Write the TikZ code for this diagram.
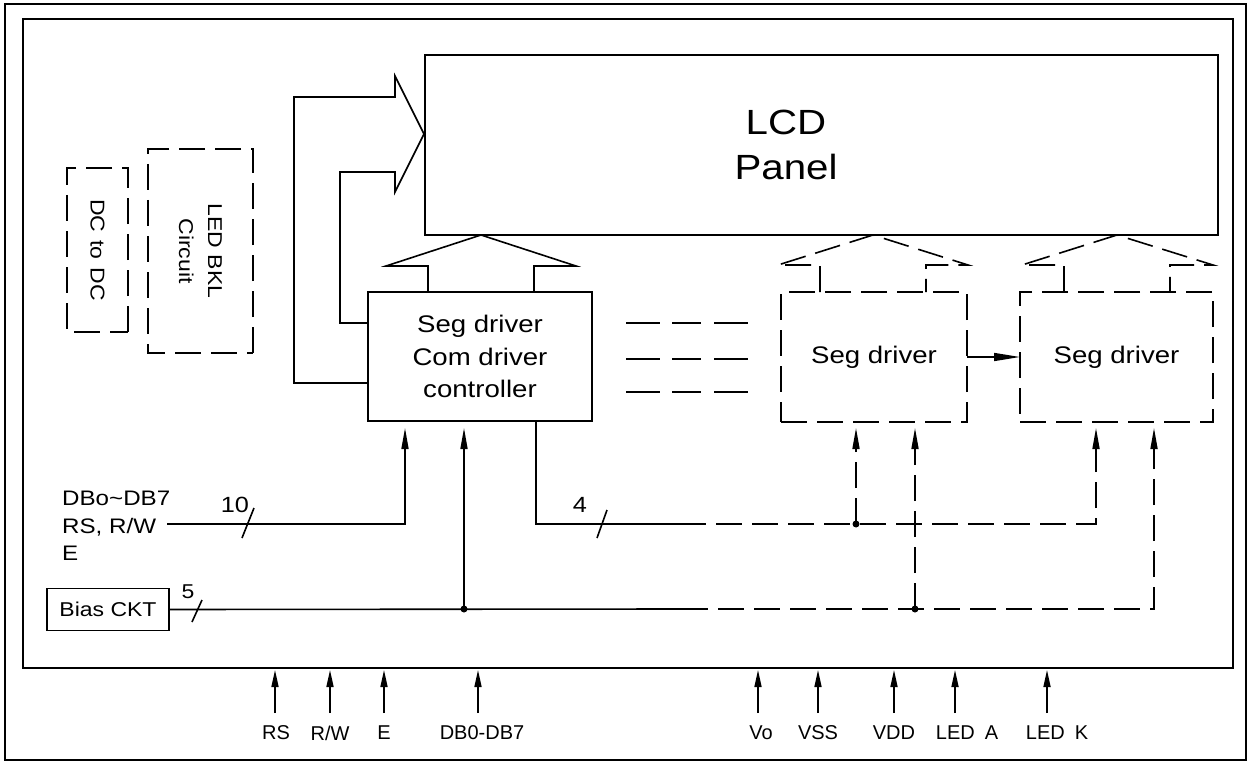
\documentclass[tikz,border=0pt]{standalone}
\usepackage{fontspec}
\setmainfont{Liberation Sans}[FakeStretch=1.15]
\newfontfamily\pinfont{Liberation Sans}
\usetikzlibrary{arrows.meta}
\begin{document}
\begin{tikzpicture}[x=1pt,y=-1pt,
  ln/.style={line width=1.6pt},
  dsh/.style={line width=1.6pt,dash pattern=on 26pt off 10pt},
  arr/.style={-{Triangle[length=21pt,width=7pt]}},
  parr/.style={-{Triangle[length=17pt,width=7pt]}},
  box/.style={draw,line width=1.6pt,inner sep=0pt,outer sep=0pt},
  dotj/.style={circle,fill,inner sep=0pt,minimum size=7pt},
  fbig/.style={font=\fontsize{35}{45}\selectfont},
  fmid/.style={font=\fontsize{24}{32.5}\selectfont},
  fsml/.style={font=\fontsize{20}{24}\selectfont},
  fpin/.style={font=\pinfont\fontsize{20}{24}\selectfont},
  fnum/.style={font=\fontsize{22}{24}\selectfont}]
\useasboundingbox (0,0) rectangle (1247,762);
\draw[line width=1.8pt] (5,4) rectangle (1246,760);
\node[box,line width=2.6pt,minimum width=1210pt,minimum height=649pt] (frame) at (628,343.5) {};
% LCD panel
\node[box,minimum width=793pt,minimum height=180pt] (lcd) at (821.5,145) {};
\node[fbig,align=center] (lcdtxt) at (786,145) {LCD\\Panel};
% DC to DC and LED BKL
\node[box,dsh,rotate=-90,minimum width=164pt,minimum height=61pt,fsml] (dc) at (97.5,250) {DC\hspace{0.4em}to\hspace{0.4em}DC};
\node[box,dsh,rotate=-90,minimum width=204pt,minimum height=105pt,font=\fontsize{20}{29}\selectfont,align=center] (led) at (200.5,251) {LED BKL\\Circuit};
% drivers
\node[box,fmid,align=center,minimum width=224pt,minimum height=129pt] (ctrl) at (480,356.5) {Seg driver\\Com driver\\controller};
\node[box,dsh,fmid,minimum width=186pt,minimum height=130pt] (seg1) at (874,357) {Seg driver};
\node[box,dsh,fmid,minimum width=193pt,minimum height=130pt] (seg2) at (1116.5,357) {Seg driver};
\node[box,fsml,minimum width=122pt,minimum height=42pt] (bias) at (108,609.5) {Bias CKT};
% big arrow from the left into the panel
\draw[ln] (ctrl.south west) ++(0,-38) -- ++(-74,0) -- ++(0,-286) -- ++(101,0) -- ++(0,-21)
  -- ++(29,58) -- ++(-29,58) -- ++(0,-20) -- ++(-55,0) -- ++(0,151) -- ++(28,0);
% arrow up from controller
\draw[ln] (ctrl.north west) ++(60,0) -- ++(0,-26) -- ++(-42,0) -- ++(95,-31) -- ++(95,31) -- ++(-42,0) -- ++(0,26);
% dashed arrows up from seg drivers
\draw[dsh] (seg1.north west) ++(39,0) -- ++(0,-27) -- ++(-42,0) -- ++(95,-30) -- ++(95,30) -- ++(-42,0) -- ++(0,27);
\draw[dsh] (seg2.north west) ++(44,0) -- ++(0,-27) -- ++(-42,0) -- ++(95,-30) -- ++(96,30) -- ++(-43,0) -- ++(0,27);
% dashes between
\foreach \yy in {323,359,392}{\draw[ln] (626,\yy) -- (660,\yy) (672,\yy) -- (701,\yy) (714,\yy) -- (748,\yy);}
% seg1 -> seg2
\draw[ln,-{Triangle[length=26pt,width=8pt]}] (seg1.east) -- (seg2.west);
% data bus
\node[font=\fontsize{21}{27.5}\selectfont,align=left,anchor=west,inner sep=0pt] (dbtxt) at (62,526) {DBo\textasciitilde DB7\\RS, R/W\\E};
\coordinate (dbs) at (167,524);
\coordinate (c1) at (405,524);
\draw[ln,arr,shorten >=7pt] (dbs) -| (ctrl.south -| c1);
\draw[ln] (242,538) -- (254,508);
\node[fnum] (n10) at (235,505) {10};
% bias lines
\coordinate (jb1) at (464,609);
\coordinate (bsw) at (682,609);
\coordinate (jb2) at (915,609);
\coordinate (bc) at (1154,609);
\draw[ln] (bias.east) -- (bsw);
\draw[ln,arr,shorten >=7pt] (jb1) -- (jb1 |- ctrl.south);
\draw[dsh,arr,shorten >=6pt] (bsw) -| (seg2.south -| bc);
\draw[dsh,arr,shorten >=6pt] (jb2) -- (jb2 |- seg1.south);
\node[dotj] (d1) at (jb1) {};
\node[dotj] (d2) at (jb2) {};
\draw[ln] (192,622) -- (202,600);
\node[fsml] (n5) at (188,592) {5};
% 4-line bus
\coordinate (c4) at (536,524);
\coordinate (sw4) at (680,524);
\coordinate (j4) at (856,524);
\coordinate (c5) at (1096,524);
\draw[ln] (ctrl.south -| c4) -- (c4) -- (sw4);
\draw[dsh,arr,shorten >=6pt] (sw4) -| (seg2.south -| c5);
\draw[dsh,arr,shorten >=6pt] (j4) -- (j4 |- seg1.south);
\node[dotj] (d3) at (j4) {};
\draw[ln] (597,538) -- (607,510);
\node[fnum] (n4) at (580,505) {4};
% pins
\foreach \i/\ax/\lx/\t in {1/275/276/RS, 2/330/330/{R/W}, 3/384/384/E, 4/478/482/{DB0-DB7}, 5/758/761/Vo, 6/818/818/VSS, 7/894/894/VDD, 8/955/967/{LED\hspace{0.5em}A}, 9/1047/1057/{LED\hspace{0.5em}K}}{
  \node[fpin] (p\i) at (\lx,733) {\t};
  \coordinate (q\i) at (\ax,713);
  \draw[ln,parr,shorten >=2pt] (q\i) -- (q\i |- frame.south);
}
\end{tikzpicture}
\end{document}
